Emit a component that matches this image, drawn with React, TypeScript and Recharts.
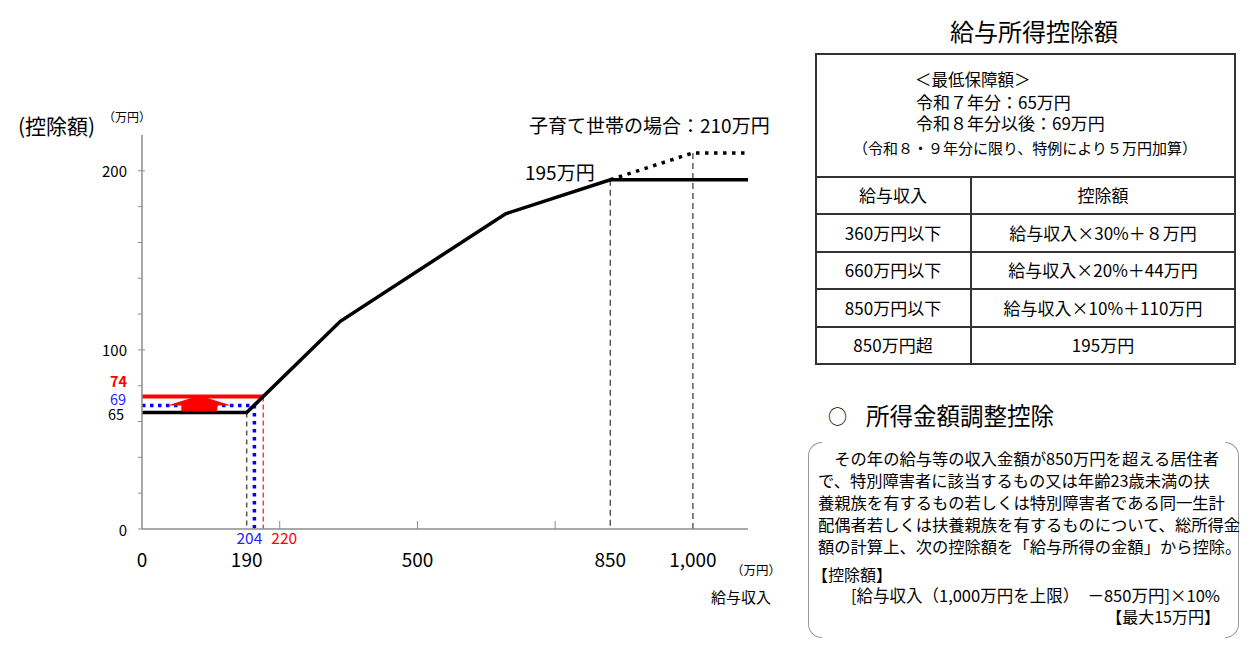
import React from 'react';
import { LineChart, Line, XAxis, YAxis } from 'recharts';

const FONT = "'Noto Sans CJK JP', 'Noto Sans', sans-serif";

// 給与収入（万円）→ 給与所得控除額（万円）
const incomeSteps = [0, 190, 360, 660, 850, 1100];
const deductionSteps = [65, 65, 116, 176, 195, 195];

// 子育て世帯の場合（上限 210万円）
const childIncome = [850, 1000, 1100];
const childDeduction = [195, 210, 210];

// 最低保障額
const floorR7 = 65;
const floorR8 = 69;
const floorSpecial = 74;
const floorR7Income = 190;
const floorR8Income = 204;
const floorSpecialIncome = 220;
const capIncome = [850, 1000];
const capDeduction = [195, 210];

// 軸
const xTicks = [0, 190, 204, 220, 250, 500, 750, 850, 1000];
const xMainLabels = [0, 190, 500, 850, 1000];
const xTickMarks = [250, 500, 750];
const yGridTicks = [0, 20, 40, 60, 80, 100, 120, 140, 160, 180, 200];
const yMainLabels = [0, 100, 200];

// 表
const tableIncome = ['360万円以下', '660万円以下', '850万円以下', '850万円超'];
const tableDeduction = ['給与収入×30%＋８万円', '給与収入×20%＋44万円', '給与収入×10%＋110万円', '195万円'];

const pts = (xs: number[], ys: number[]) => xs.map((x, i) => ({ x, y: ys[i] }));
const drop = (x: number, y: number) => [{ x, y }, { x, y: 0 }];

const mainLine = pts(incomeSteps, deductionSteps);
const childLine = pts(childIncome, childDeduction);
const blueFloor = [{ x: 0, y: floorR8 }, { x: floorR8Income, y: floorR8 }, { x: floorR8Income, y: 0 }];
const redFloor = [{ x: 0, y: floorSpecial }, { x: floorSpecialIncome, y: floorSpecial }];
// 引き上げを示す矢印（青線の中ほど）
const raiseArrow = [{ x: 104, y: floorR8 }];

const fmt = (v: number) => v.toLocaleString('en-US');

const YTick = (props: any) => {
  const { x, y, payload } = props;
  const v = payload.value;
  const out: React.ReactNode[] = [];
  if (yGridTicks.includes(v)) {
    out.push(<line key="l" x1={x - 4} x2={v % 100 === 0 && v > 0 ? x + 3 : x} y1={y} y2={y} stroke="#8c8c8c" strokeWidth={1} />);
  }
  let label: React.ReactNode = null;
  if (yMainLabels.includes(v)) {
    label = <text x={x - 15} y={y} textAnchor="end" dominantBaseline="central" fontSize={15} fill="#000" fontFamily={FONT}>{v}</text>;
  } else if (v === floorSpecial) {
    label = <text x={x - 15} y={y - 16} textAnchor="end" dominantBaseline="central" fontSize={14.5} fontWeight="bold" fill="#ff0000" fontFamily={FONT}>{v}</text>;
  } else if (v === floorR8) {
    label = <text x={x - 16} y={y - 7} textAnchor="end" dominantBaseline="central" fontSize={14.5} fill="#2424ff" fontFamily={FONT}>{v}</text>;
  } else if (v === floorR7) {
    label = <text x={x - 18} y={y + 1} textAnchor="end" dominantBaseline="central" fontSize={14.5} fill="#000" fontFamily={FONT}>{v}</text>;
  }
  return <g>{out}{label}</g>;
};

const XTick = (props: any) => {
  const { x, y, payload } = props;
  const v = payload.value;
  return (
    <g>
      {xTickMarks.includes(v) && <line x1={x} x2={x} y1={y} y2={y - 8} stroke="#8c8c8c" strokeWidth={1} />}
      {xMainLabels.includes(v) && (
        <text x={x} y={y + 29} textAnchor="middle" dominantBaseline="central" fontSize={19} fill="#000" fontFamily={FONT}>{fmt(v)}</text>
      )}
      {v === floorR8Income && (
        <text x={x - 5} y={y + 8} textAnchor="middle" dominantBaseline="central" fontSize={15.5} fill="#2424ff" fontFamily={FONT}>{v}</text>
      )}
      {v === floorSpecialIncome && (
        <text x={x + 21} y={y + 8} textAnchor="middle" dominantBaseline="central" fontSize={15.5} fill="#ff0000" fontFamily={FONT}>{v}</text>
      )}
    </g>
  );
};

// arrow drawn around a point: head base on the point, tip above, stem below
const ArrowDot = (props: any) => {
  const { cx, cy } = props;
  if (cx == null || cy == null) return null;
  const hw = 32;
  const sw = 18;
  const d = `M${cx - hw},${cy} L${cx},${cy - 10} L${cx + hw},${cy} L${cx + sw},${cy} L${cx + sw},${cy + 6} L${cx - sw},${cy + 6} L${cx - sw},${cy} Z`;
  return <path key="arrow" d={d} fill="#ff0000" />;
};

const T = ({ x, y, size, children, align = 'left', color = '#000', weight = 'normal' }: any) => {
  const tx = align === 'center' ? '-50%' : align === 'right' ? '-100%' : '0';
  return (
    <div
      style={{
        position: 'absolute',
        left: x,
        top: y,
        transform: `translate(${tx}, -50%)`,
        fontSize: size,
        lineHeight: 1.2,
        color,
        fontWeight: weight,
        whiteSpace: 'pre',
      }}
    >
      {children}
    </div>
  );
};

const rowLines = [176, 213, 251, 288, 326];
const rowCenters = [233, 270, 308, 345];

export default function App() {
  return (
    <div
      style={{
        position: 'absolute',
        left: 0,
        top: 0,
        width: 1255,
        height: 650,
        background: '#fff',
        overflow: 'hidden',
        fontFamily: FONT,
        color: '#000',
      }}
    >
      <div style={{ position: 'absolute', left: 0, top: 0 }}>
        <LineChart width={800} height={650} margin={{ top: 135, right: 52, left: 82, bottom: 91 }}>
          <XAxis
            type="number"
            dataKey="x"
            domain={[0, 1100]}
            ticks={xTicks}
            interval={0}
            tick={<XTick />}
            tickLine={false}
            tickSize={0}
            tickMargin={0}
            height={30}
            axisLine={{ stroke: '#8c8c8c', strokeWidth: 1.5 }}
          />
          <YAxis
            type="number"
            dataKey="y"
            domain={[0, 220]}
            ticks={[...yGridTicks, floorR7, floorR8, floorSpecial]}
            interval={0}
            tick={<YTick />}
            tickLine={false}
            tickSize={0}
            tickMargin={0}
            width={60}
            axisLine={{ stroke: '#8c8c8c', strokeWidth: 1.5 }}
          />
          <Line data={drop(floorR7Income, floorR7)} dataKey="y" stroke="#555" strokeWidth={1.5} strokeDasharray="5 4" dot={false} isAnimationActive={false} />
          <Line data={drop(floorSpecialIncome, floorSpecial)} dataKey="y" stroke="#ff2020" strokeWidth={1.3} strokeDasharray="5 3" dot={false} isAnimationActive={false} />
          <Line data={drop(capIncome[0], capDeduction[0])} dataKey="y" stroke="#444" strokeWidth={1.3} strokeDasharray="6 4" dot={false} isAnimationActive={false} />
          <Line data={drop(capIncome[1], capDeduction[1])} dataKey="y" stroke="#444" strokeWidth={1.3} strokeDasharray="6 4" dot={false} isAnimationActive={false} />
          <Line data={blueFloor} dataKey="y" stroke="#0000ff" strokeWidth={3.5} strokeDasharray="3.5 4.5" dot={false} isAnimationActive={false} />
          <Line data={raiseArrow} dataKey="y" stroke="none" dot={<ArrowDot />} isAnimationActive={false} />
          <Line data={redFloor} dataKey="y" stroke="#ff0000" strokeWidth={4} dot={false} isAnimationActive={false} />
          <Line data={childLine} dataKey="y" stroke="#000" strokeWidth={3.5} strokeDasharray="3.5 5.5" dot={false} isAnimationActive={false} />
          <Line data={mainLine} dataKey="y" stroke="#000" strokeWidth={3.5} dot={false} isAnimationActive={false} />
        </LineChart>
      </div>

      {/* chart annotations */}
      <T x={18} y={126} size={21}>(控除額)</T>
      <T x={103} y={117} size={12}>（万円）</T>
      <T x={529} y={125} size={19}>子育て世帯の場合：210万円</T>
      <T x={525} y={172} size={19}>195万円</T>
      <T x={731} y={569} size={12.5}>（万円）</T>
      <T x={711} y={597} size={15}>給与収入</T>

      {/* 給与所得控除額 table */}
      <T x={1034} y={31} size={24} align="center">給与所得控除額</T>
      <div style={{ position: 'absolute', left: 815, top: 53, width: 421, height: 312, border: '2px solid #333', boxSizing: 'border-box' }} />
      {rowLines.map((ry) => (
        <div key={ry} style={{ position: 'absolute', left: 815, top: ry, width: 421, height: 2, background: '#333' }} />
      ))}
      <div style={{ position: 'absolute', left: 970, top: 176, width: 2, height: 188, background: '#333' }} />
      <T x={915} y={80} size={16.5}>＜最低保障額＞</T>
      <T x={916} y={102} size={17}>令和７年分：65万円</T>
      <T x={916} y={123} size={17}>令和８年分以後：69万円</T>
      <T x={1025} y={148} size={15} align="center">（令和８・９年分に限り、特例により５万円加算）</T>
      <T x={893} y={195} size={17} align="center">給与収入</T>
      <T x={1103} y={195} size={17} align="center">控除額</T>
      {tableIncome.map((s, i) => (
        <T key={s} x={893} y={rowCenters[i]} size={17} align="center">{s}</T>
      ))}
      {tableDeduction.map((s, i) => (
        <T key={s} x={1103} y={rowCenters[i]} size={17} align="center">{s}</T>
      ))}

      {/* 所得金額調整控除 */}
      <T x={828} y={416} size={19}>○</T>
      <T x={866} y={415} size={23.5}>所得金額調整控除</T>
      <div style={{ position: 'absolute', left: 808, top: 442, width: 14, height: 196, borderLeft: '1.5px solid #999', borderTop: '1.5px solid #999', borderBottom: '1.5px solid #999', borderRadius: '14px 0 0 14px', boxSizing: 'border-box' }} />
      <div style={{ position: 'absolute', left: 1225, top: 442, width: 14, height: 196, borderRight: '1.5px solid #999', borderTop: '1.5px solid #999', borderBottom: '1.5px solid #999', borderRadius: '0 14px 14px 0', boxSizing: 'border-box' }} />
      <div style={{ position: 'absolute', left: 818, top: 447, fontSize: 16.3, lineHeight: '22px', whiteSpace: 'pre' }}>
        {'　その年の給与等の収入金額が850万円を超える居住者\nで、特別障害者に該当するもの又は年齢23歳未満の扶\n養親族を有するもの若しくは特別障害者である同一生計\n配偶者若しくは扶養親族を有するものについて、総所得金\n額の計算上、次の控除額を「給与所得の金額」から控除。'}
      </div>
      <T x={812} y={575} size={16}>【控除額】</T>
      <T x={1220} y={596} size={16.5} align="right">[給与収入（1,000万円を上限）　－850万円]×10%</T>
      <T x={1220} y={617} size={16} align="right">【最大15万円】</T>
    </div>
  );
}
